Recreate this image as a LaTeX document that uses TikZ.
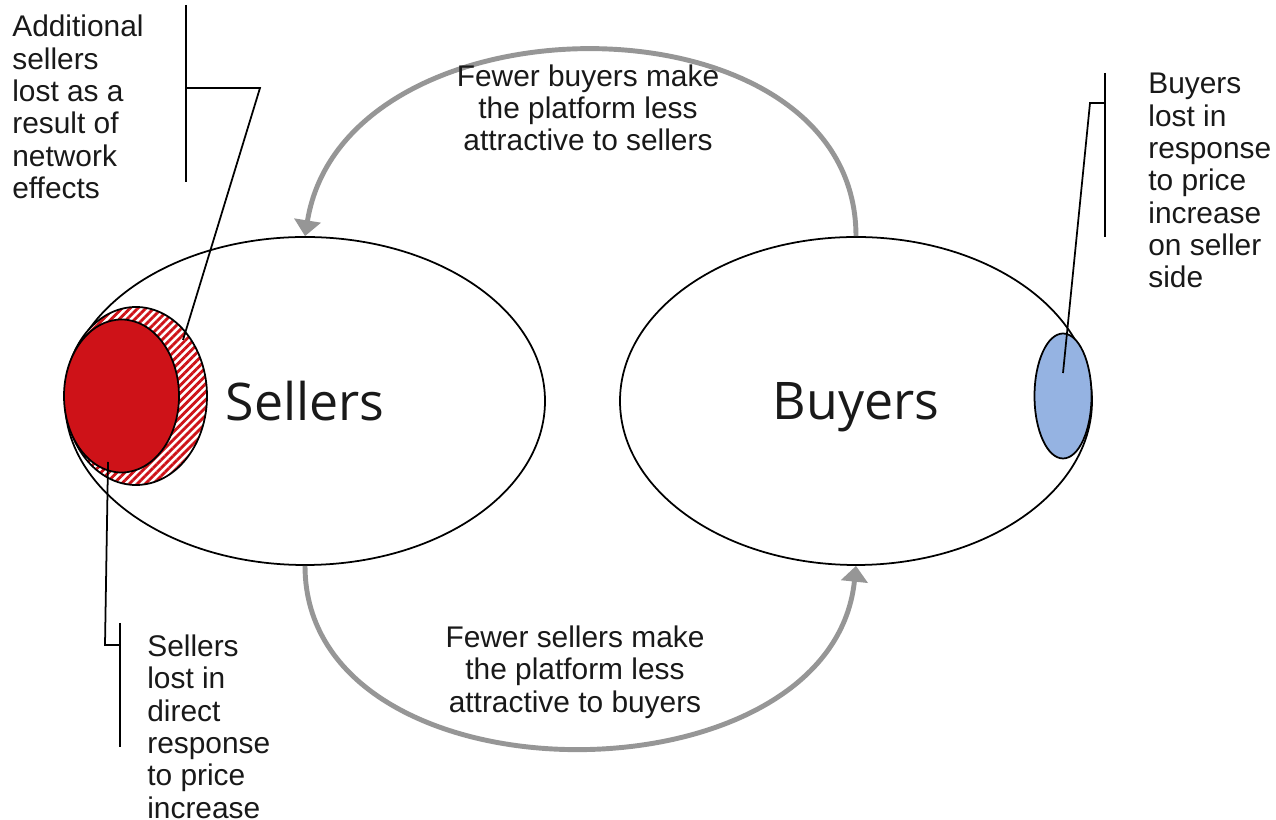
\documentclass[tikz,border=0pt]{standalone}
\usepackage{fontspec}
\setmainfont{Liberation Sans}
\newfontfamily\sidefont{Open Sans}
\usetikzlibrary{shapes.geometric,arrows.meta,patterns.meta}
\definecolor{lossred}{RGB}{206,18,24}
\definecolor{lossblue}{RGB}{149,179,226}
\definecolor{loopgray}{RGB}{150,150,150}
\begin{document}
\begin{tikzpicture}[
  side/.style={ellipse, draw, line width=1pt, inner sep=0pt, text depth=0pt,
    font=\sidefont\fontsize{29.5}{32}\selectfont, text=black!90},
  lost/.style={ellipse, draw, line width=1pt, inner sep=0pt},
  note/.style={align=left, inner sep=0pt, text=black!90,
    font=\fontsize{17}{18.4}\selectfont},
  looptext/.style={align=center, inner sep=0pt, text=black!90,
    font=\fontsize{17}{18.4}\selectfont},
  feedback/.style={draw=loopgray, line width=2.8pt,
    -{Triangle[width=15pt,length=9pt]}},
  leader/.style={line width=1pt}
]
% picture frame
\useasboundingbox (0,0) rectangle (25.52,16.4);
%
% the two sides of the platform
\node[side, minimum width=9.6cm, minimum height=6.56cm] (sellers) at (6.1,8.38) {Sellers};
\node[side, minimum width=9.44cm, minimum height=6.56cm] (buyers) at (17.12,8.38) {Buyers};
%
% sellers lost (network effects, then direct response)
\node[lost, minimum width=2.84cm, minimum height=3.56cm,
      preaction={fill=white},
      pattern={Lines[angle=45,distance=3.2pt,line width=1.6pt]},
      pattern color=lossred] (netloss) at (2.72,8.48) {};
\node[lost, fill=lossred, minimum width=2.3cm, minimum height=3.06cm] (directloss) at (2.43,8.48) {};
% buyers lost
\node[lost, fill=lossblue, minimum width=1.14cm, minimum height=2.5cm] (buyerloss) at (21.26,8.48) {};
%
% feedback loops
\draw[feedback] (buyers.north) .. controls +(0,4.95) and +(0.8,4.95) .. (sellers.north);
\draw[feedback] (sellers.south) .. controls +(0,-4.85) and +(-0.5,-4.85) .. (buyers.south);
\node[looptext] (toploop) at (11.76,14.24) {Fewer buyers make\\the platform less\\attractive to sellers};
\node[looptext] (botloop) at (11.5,2.96) {Fewer sellers make\\the platform less\\attractive to buyers};
%
% callout - network effects
\node[note, anchor=north west] (nettext) at (0.24,16.1) {Additional\\sellers\\lost as a\\result of\\network\\effects};
\coordinate (nettop) at (3.72,16.3);
\coordinate (netbot) at (3.72,12.76);
\coordinate (netmid) at (3.72,14.64);
\coordinate (netknee) at (5.2,14.64);
\coordinate (netend) at (3.66,9.6);
\draw[leader] (nettop) -- (netbot);
\draw[leader] (netmid) -- (netknee) -- (netend);
%
% callout - direct response
\node[note, anchor=north west] (directtext) at (2.94,3.71) {Sellers\\lost in\\direct\\response\\to price\\increase};
\coordinate (directtop) at (2.4,3.94);
\coordinate (directbot) at (2.4,1.46);
\coordinate (directmid) at (2.4,3.5);
\coordinate (directknee) at (2.1,3.5);
\coordinate (directend) at (2.16,7.16);
\draw[leader] (directtop) -- (directbot);
\draw[leader] (directmid) -- (directknee) -- (directend);
%
% callout - buyers side
\node[note, anchor=north west] (buyertext) at (22.96,14.94) {Buyers\\lost in\\response\\to price\\increase\\on seller\\side};
\coordinate (buyertop) at (22.1,14.94);
\coordinate (buyerbot) at (22.1,11.66);
\coordinate (buyermid) at (22.1,14.34);
\coordinate (buyerknee) at (21.8,14.34);
\coordinate (buyerend) at (21.26,8.94);
\draw[leader] (buyertop) -- (buyerbot);
\draw[leader] (buyermid) -- (buyerknee) -- (buyerend);
\end{tikzpicture}
\end{document}
